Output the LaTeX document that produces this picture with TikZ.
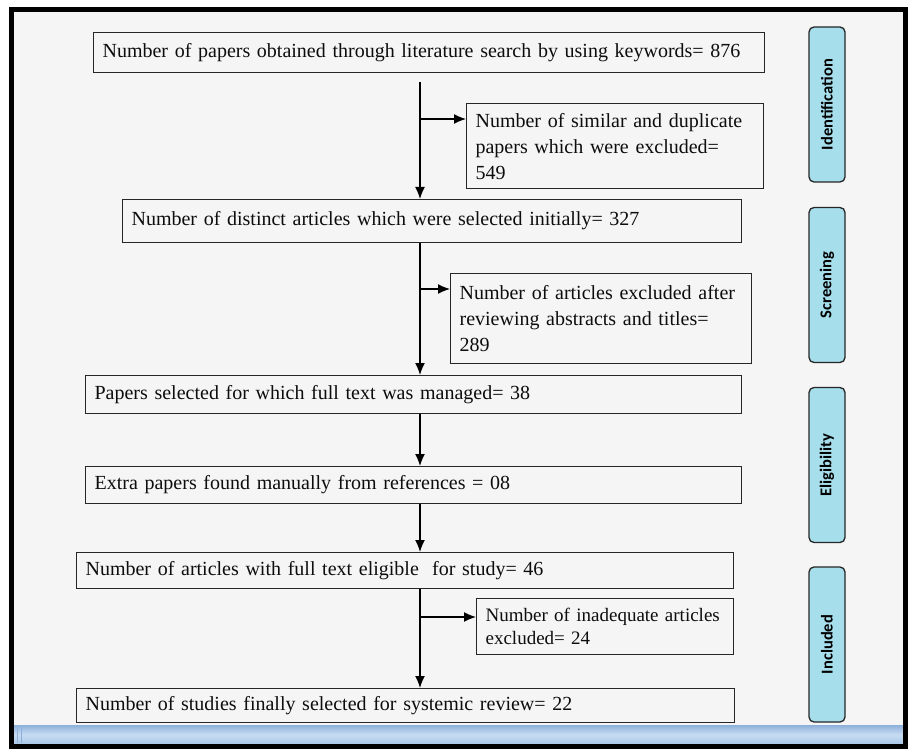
\documentclass[tikz,border=0pt]{standalone}
\usepackage{fontspec}
\setmainfont{Liberation Serif}
\newfontfamily\phasefont{Carlito}
\usepackage{xcolor}
\usetikzlibrary{arrows.meta}
\definecolor{phaseblue}{RGB}{166,222,236}
\definecolor{pagegray}{RGB}{245,245,245}
\definecolor{bartop}{RGB}{140,176,218}
\definecolor{barmid}{RGB}{200,220,242}
\definecolor{barbot}{RGB}{168,198,232}
\tikzstyle{box} = [draw=black!85, line width=1.2pt, rectangle, anchor=north west, inner xsep=9pt, inner ysep=2pt, align=left, text=black!95, font=\fontsize{20}{26}\selectfont]
\tikzstyle{line} = [draw, line width=1.4pt, -{Latex[length=12pt,width=10pt]}]
\tikzstyle{phase} = [draw=black!85, line width=1.3pt, rounded corners=5pt, fill=phaseblue, rotate=90, minimum width=155pt, minimum height=36pt, inner sep=0pt, font=\phasefont\bfseries\fontsize{16.5}{18}\selectfont]

\begin{document}
\begin{tikzpicture}[x=1pt, y=-1pt]
		    \useasboundingbox (0,0) rectangle (908,749);
		    % frame and page
		    \fill[white] (0,0) rectangle (908,749);
		    \fill[pagegray] (11,10) rectangle (905,746);
		    \shade[top color=bartop, bottom color=barbot, middle color=barmid] (14,725) rectangle (904,744);
		    \draw[bartop, line width=0.8pt] (17,727) -- (17,743);
		    \draw[bartop, line width=0.8pt] (21,727) -- (21,743);
		    \draw[line width=5pt] (11,10) rectangle (905,746);
		                % main boxes
		                \node[box, text width=653pt, minimum height=40pt] (search) at (93,32) {Number of papers obtained through literature search by using keywords= 876};
		                \node[box, text width=601pt, minimum height=43pt] (distinct) at (122,199) {Number of distinct articles which were selected initially= 327};
		                \node[box, text width=638pt, minimum height=38pt] (fulltext) at (85,375) {Papers selected for which full text was managed= 38};
		                \node[box, text width=638pt, minimum height=37pt] (extra) at (85,466) {Extra papers found manually from references = 08};
		                \node[box, text width=639pt, minimum height=36pt] (eligible) at (76,552) {Number of articles with full text eligible\ \ for study= 46};
		                \node[box, text width=640pt, minimum height=34pt] (final) at (76,688) {Number of studies finally selected for systemic review= 22};
		                % excluded boxes
		                \node[box, text width=279pt, minimum height=85pt] (dupl) at (466,103) {Number of similar and duplicate\\papers which were excluded=\\549};
		                \node[box, text width=283pt, minimum height=90pt] (abstr) at (450,273) {Number of articles excluded after\\reviewing abstracts and titles=\\289};
		                \node[box, text width=239pt, minimum height=56pt, font=\fontsize{19}{23}\selectfont] (inadeq) at (476,598) {Number of inadequate articles\\excluded= 24};
		                % phase labels
		                \node[phase] (ident) at (827,104.5) {Identification};
		                \node[phase] (screen) at (827,285) {Screening};
		                \node[phase] (elig) at (827,465) {Eligibility};
		                \node[phase] (incl) at (827,644.5) {Included};
		                % arrows
		                \coordinate (trunk) at (420,82);
		                \coordinate (split1) at (420,119);
		                \coordinate (split2) at (420,289);
		                \coordinate (split3) at (420,617);
		                \path [line] (trunk) -- (trunk |- distinct.north);
		                \path [line] (split1) -- (split1 -| dupl.west);
		                \path [line] (distinct.south -| trunk) -- (fulltext.north -| trunk);
		                \path [line] (split2) -- (split2 -| abstr.west);
		                \path [line] (fulltext.south -| trunk) -- (extra.north -| trunk);
		                \path [line] (extra.south -| trunk) -- (eligible.north -| trunk);
		                \path [line] (eligible.south -| trunk) -- (final.north -| trunk);
		                \path [line] (split3) -- (split3 -| inadeq.west);
		            \end{tikzpicture}
\end{document}
